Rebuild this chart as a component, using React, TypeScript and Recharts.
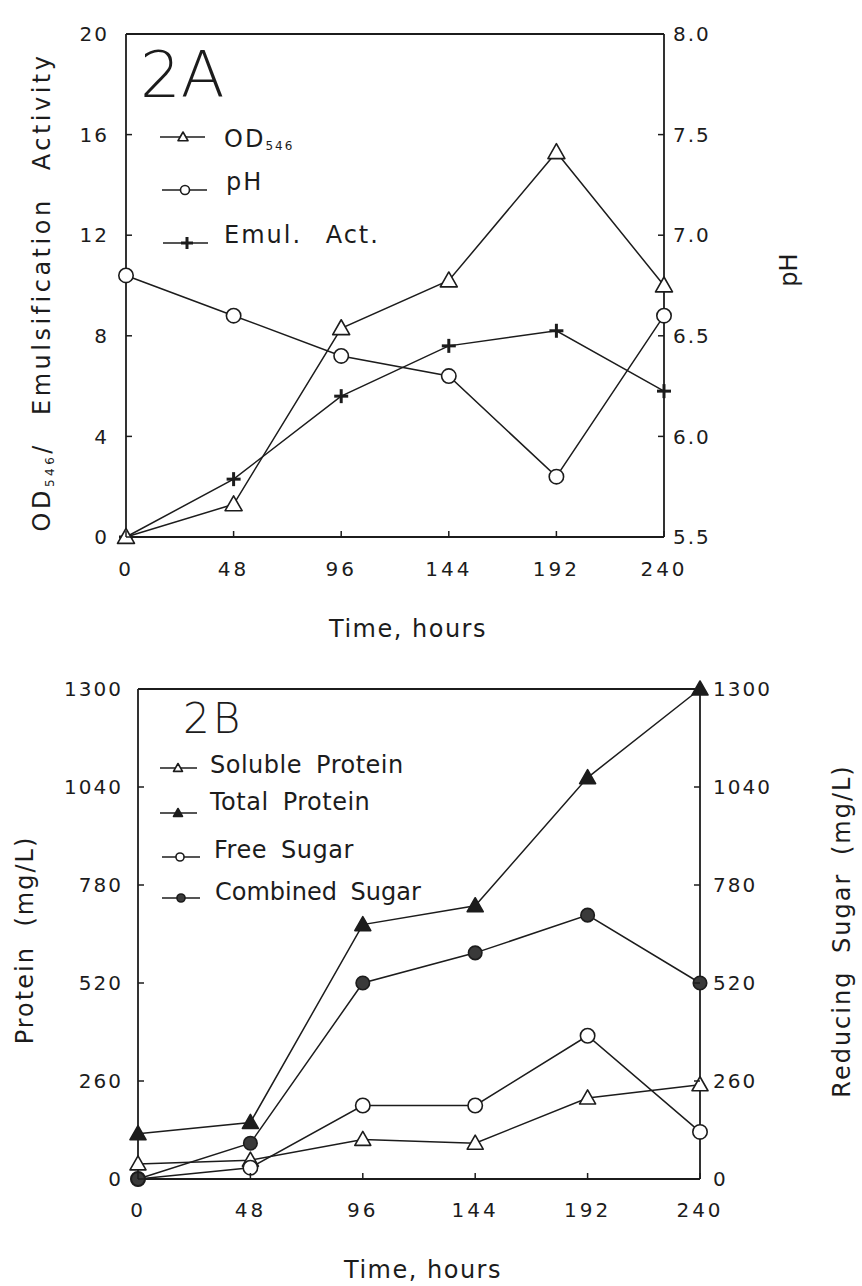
import React from "react";
import { LineChart, Line, XAxis, YAxis, ReferenceLine } from "recharts";

// Fig. 2 — fermentation time course (2A: growth / pH / emulsification, 2B: protein & sugar)

const FONT = "'DejaVu Sans', 'Liberation Sans', sans-serif";
const INK = "#1c1c1c";

const hours = [0, 48, 96, 144, 192, 240];

// panel 2A
const od546 = [0, 1.3, 8.3, 10.2, 15.3, 10.0];
const phValues = [6.8, 6.6, 6.4, 6.3, 5.8, 6.6];
const emulAct = [0, 2.3, 5.6, 7.6, 8.2, 5.8];
const leftTicksA = [0, 4, 8, 12, 16, 20];
const phTicks = [5.5, 6.0, 6.5, 7.0, 7.5, 8.0];

// panel 2B (mg/L)
const solubleProtein = [40, 50, 105, 95, 215, 250];
const totalProtein = [120, 150, 675, 725, 1065, 1300];
const freeSugar = [0, 30, 195, 195, 380, 125];
const combinedSugar = [0, 95, 520, 600, 700, 520];
const mgTicks = [0, 260, 520, 780, 1040, 1300];

const dataA = hours.map((h, i) => ({ h, od: od546[i], ph: phValues[i], emul: emulAct[i] }));
const dataB = hours.map((h, i) => ({
  h,
  soluble: solubleProtein[i],
  total: totalProtein[i],
  free: freeSugar[i],
  combined: combinedSugar[i],
}));

type MarkerKind = "triOpen" | "triFilled" | "circleOpen" | "circleFilled" | "plus";

function Marker({ kind, cx, cy, size = 8 }: { kind: MarkerKind; cx: number; cy: number; size?: number }) {
  const r = size;
  if (kind === "triOpen" || kind === "triFilled") {
    const pts = `${cx},${cy - r} ${cx + r},${cy + r * 0.75} ${cx - r},${cy + r * 0.75}`;
    return (
      <polygon
        points={pts}
        fill={kind === "triFilled" ? INK : "#fff"}
        stroke={INK}
        strokeWidth={1.6}
        strokeLinejoin="round"
      />
    );
  }
  if (kind === "circleOpen" || kind === "circleFilled") {
    return (
      <circle
        cx={cx}
        cy={cy}
        r={r * 0.9}
        fill={kind === "circleFilled" ? "#3a3a3a" : "#fff"}
        stroke={INK}
        strokeWidth={1.6}
      />
    );
  }
  return (
    <g stroke={INK} strokeWidth={3}>
      <line x1={cx - r} x2={cx + r} y1={cy} y2={cy} />
      <line x1={cx} x2={cx} y1={cy - r} y2={cy + r} />
    </g>
  );
}

const dotOf = (kind: MarkerKind, size = 8) => (p: any) =>
  <Marker key={`${kind}-${p.index}`} kind={kind} cx={p.cx} cy={p.cy} size={size} />;

// ticks point into the plot, labels sit outside
const tickText = { fontFamily: FONT, fontSize: 20, fill: INK };

const leftTick = (gap: number, fmt: (v: number) => string) => (p: any) => (
  <g>
    <line x1={p.x + gap} x2={p.x + gap + 6} y1={p.y} y2={p.y} stroke={INK} strokeWidth={1.5} />
    <text x={p.x} y={p.y} dy="0.36em" textAnchor="end" {...tickText} letterSpacing={2}>
      {fmt(p.payload.value)}
    </text>
  </g>
);

const rightTick = (gap: number, fmt: (v: number) => string) => (p: any) => (
  <g>
    <line x1={p.x - gap} x2={p.x - gap - 6} y1={p.y} y2={p.y} stroke={INK} strokeWidth={1.5} />
    <text x={p.x} y={p.y} dy="0.36em" textAnchor="start" {...tickText} letterSpacing={2}>
      {fmt(p.payload.value)}
    </text>
  </g>
);

const bottomTick = (gap: number) => (p: any) => (
  <g>
    <line x1={p.x} x2={p.x} y1={p.y - gap} y2={p.y - gap - 6} stroke={INK} strokeWidth={1.5} />
    <text x={p.x} y={p.y} dy="0.73em" textAnchor="middle" {...tickText} letterSpacing={3}>
      {p.payload.value}
    </text>
  </g>
);

const plain = (v: number) => String(v);
const oneDec = (v: number) => v.toFixed(1);

const axisLine = { stroke: INK, strokeWidth: 1.8 };
const lineProps = { type: "linear" as const, stroke: INK, strokeWidth: 1.5, isAnimationActive: false, activeDot: false as const };

function PanelA() {
  return (
    <LineChart width={862} height={640} data={dataA} margin={{ top: 34, right: 138, bottom: 73, left: 66 }}>
      <XAxis
        xAxisId="b"
        dataKey="h"
        type="number"
        domain={[0, 240]}
        ticks={hours}
        axisLine={axisLine}
        tickLine={false}
        tickSize={0}
        tickMargin={24}
        tick={bottomTick(24)}
      />
      <YAxis
        yAxisId="l"
        type="number"
        domain={[0, 20]}
        ticks={leftTicksA}
        width={60}
        axisLine={axisLine}
        tickLine={false}
        tickSize={0}
        tickMargin={17}
        tick={leftTick(17, plain)}
      />
      <YAxis
        yAxisId="r"
        orientation="right"
        type="number"
        domain={[5.5, 8]}
        ticks={phTicks}
        width={60}
        axisLine={axisLine}
        tickLine={false}
        tickSize={0}
        tickMargin={9}
        tick={rightTick(9, oneDec)}
      />
      {/* top edge of the frame */}
      <ReferenceLine xAxisId="b" yAxisId="l" y={20} stroke={INK} strokeWidth={1.8} />
      <Line xAxisId="b" yAxisId="r" dataKey="ph" {...lineProps} dot={dotOf("circleOpen", 8)} />
      <Line xAxisId="b" yAxisId="l" dataKey="emul" {...lineProps} dot={dotOf("plus", 7)} />
      <Line xAxisId="b" yAxisId="l" dataKey="od" {...lineProps} dot={dotOf("triOpen", 8.5)} />
    </LineChart>
  );
}

function PanelB() {
  return (
    <LineChart width={862} height={646} data={dataB} margin={{ top: 49, right: 102, bottom: 77, left: 78 }}>
      <XAxis
        xAxisId="b"
        dataKey="h"
        type="number"
        domain={[0, 240]}
        ticks={hours}
        axisLine={axisLine}
        tickLine={false}
        tickSize={0}
        tickMargin={23}
        tick={bottomTick(23)}
      />
      <YAxis
        yAxisId="l"
        type="number"
        domain={[0, 1300]}
        ticks={mgTicks}
        width={60}
        axisLine={axisLine}
        tickLine={false}
        tickSize={0}
        tickMargin={15}
        tick={leftTick(15, plain)}
      />
      <YAxis
        yAxisId="r"
        orientation="right"
        type="number"
        domain={[0, 1300]}
        ticks={mgTicks}
        width={60}
        axisLine={axisLine}
        tickLine={false}
        tickSize={0}
        tickMargin={13}
        tick={rightTick(13, plain)}
      />
      <ReferenceLine xAxisId="b" yAxisId="l" y={1300} stroke={INK} strokeWidth={1.8} />
      <Line xAxisId="b" yAxisId="l" dataKey="soluble" {...lineProps} dot={dotOf("triOpen", 8)} />
      <Line xAxisId="b" yAxisId="r" dataKey="free" {...lineProps} dot={dotOf("circleOpen", 8)} />
      <Line xAxisId="b" yAxisId="r" dataKey="combined" {...lineProps} dot={dotOf("circleFilled", 7.5)} />
      <Line xAxisId="b" yAxisId="l" dataKey="total" {...lineProps} dot={dotOf("triFilled", 8)} />
    </LineChart>
  );
}

function Key({ kind, x1, x2, mx, y, size }: { kind: MarkerKind; x1: number; x2: number; mx: number; y: number; size: number }) {
  return (
    <g>
      <line x1={x1} x2={x2} y1={y} y2={y} stroke={INK} strokeWidth={1.5} />
      <Marker kind={kind} cx={mx} cy={y} size={size} />
    </g>
  );
}

const labelText = { fontFamily: FONT, fontSize: 24, fill: INK };

function Annotations() {
  return (
    <svg
      width={862}
      height={1286}
      style={{ position: "absolute", left: 0, top: 0, pointerEvents: "none" }}
    >
      {/* ---- 2A ---- */}
      <text x={140} y={97} fontFamily={FONT} fontSize={64} fontWeight={200} fill={INK}>2A</text>
      <Key kind="triOpen" x1={160} x2={205} mx={183} y={137} size={5} />
      <text x={224} y={147} {...labelText} letterSpacing={2}>
        OD<tspan fontSize={12} dy={3}>546</tspan>
      </text>
      <Key kind="circleOpen" x1={162} x2={207} mx={185} y={190} size={5} />
      <text x={226} y={190} {...labelText} letterSpacing={2}>pH</text>
      <Key kind="plus" x1={163} x2={208} mx={187} y={243} size={6} />
      <text x={224} y={243} {...labelText} letterSpacing={2} style={{ wordSpacing: 14 }}>Emul. Act.</text>

      <text x={408} y={637} textAnchor="middle" {...labelText} letterSpacing={1.5}>Time, hours</text>
      <text
        x={50}
        y={292}
        textAnchor="middle"
        transform="rotate(-90 50 292)"
        {...labelText}
        letterSpacing={3.5}
        style={{ wordSpacing: 16 }}
      >
        OD<tspan fontSize={12} dy={4}>546</tspan>
        <tspan dy={-4}>/ Emulsification Activity</tspan>
      </text>
      <text x={797} y={270} textAnchor="middle" transform="rotate(-90 797 270)" {...labelText}>pH</text>

      {/* ---- 2B ---- */}
      <text x={183} y={733} fontFamily={FONT} fontSize={42} fontWeight={200} fill={INK} letterSpacing={3}>2B</text>
      <Key kind="triOpen" x1={160} x2={197} mx={178} y={768} size={4.5} />
      <text x={210} y={773} {...labelText} letterSpacing={0.5} style={{ wordSpacing: 6 }}>Soluble Protein</text>
      <Key kind="triFilled" x1={160} x2={197} mx={178} y={813} size={4.5} />
      <text x={210} y={810} {...labelText} letterSpacing={0.5} style={{ wordSpacing: 6 }}>Total Protein</text>
      <Key kind="circleOpen" x1={162} x2={200} mx={180} y={857} size={4.5} />
      <text x={214} y={858} {...labelText} letterSpacing={0.5} style={{ wordSpacing: 6 }}>Free Sugar</text>
      <Key kind="circleFilled" x1={162} x2={200} mx={181} y={898} size={4.5} />
      <text x={215} y={900} {...labelText} style={{ wordSpacing: 6 }}>Combined Sugar</text>

      <text x={423} y={1278} textAnchor="middle" {...labelText} letterSpacing={1.5}>Time, hours</text>
      <text
        x={33}
        y={940}
        textAnchor="middle"
        transform="rotate(-90 33 940)"
        {...labelText}
        letterSpacing={2}
        style={{ wordSpacing: 10 }}
      >
        Protein (mg/L)
      </text>
      <text
        x={850}
        y={931}
        textAnchor="middle"
        transform="rotate(-90 850 931)"
        {...labelText}
        letterSpacing={2}
        style={{ wordSpacing: 8 }}
      >
        Reducing Sugar (mg/L)
      </text>
    </svg>
  );
}

export default function App() {
  return (
    <div style={{ position: "absolute", left: 0, top: 0, width: 862, height: 1286, background: "#fff" }}>
      <div style={{ position: "absolute", left: 0, top: 0 }}>
        <PanelA />
      </div>
      <div style={{ position: "absolute", left: 0, top: 640 }}>
        <PanelB />
      </div>
      <Annotations />
    </div>
  );
}
